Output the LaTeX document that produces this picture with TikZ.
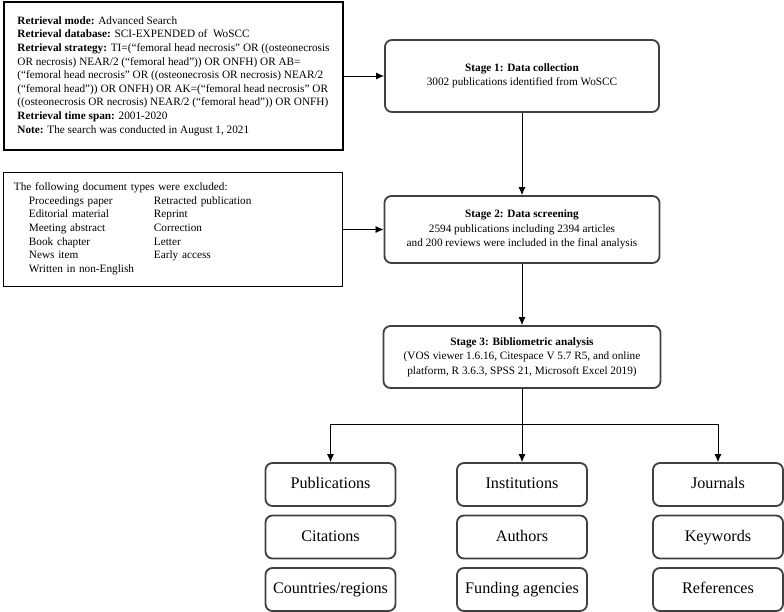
\documentclass[tikz,border=0pt]{standalone}
\usepackage{fontspec}
\setmainfont{Liberation Serif}
\usetikzlibrary{arrows.meta}

\begin{document}
\begin{tikzpicture}[x=0.025cm,y=-0.025cm]
\tikzstyle{query} = [rectangle, draw=black, line width=0.8pt, minimum width=8.475cm,
minimum height=3.7cm, align=left, font=\fontsize{8}{9.7}\selectfont]
\tikzstyle{stage} = [rectangle, draw=black!75, line width=1.3pt, rounded corners=5pt,
minimum width=6.85cm, align=center, font=\fontsize{8}{10.2}\selectfont]
\tikzstyle{item} = [rectangle, draw=black!75, line width=1.3pt, rounded corners=5pt,
minimum width=3.25cm, minimum height=1.075cm, text height=8.5pt, text depth=2.5pt,
font=\fontsize{11.5}{13}\selectfont]
\tikzstyle{line} = [draw, line width=0.6pt, -{Latex[length=5.7pt,width=5pt]}];

\useasboundingbox (0,0) rectangle (784,612);

% left column
\node [query] (query) at (173.5,76) {\textbf{Retrieval mode:} Advanced Search\\
\textbf{Retrieval database:} SCI-EXPENDED of~~WoSCC\\
\textbf{Retrieval strategy:} TI=(“femoral head necrosis” OR ((osteonecrosis\\
OR necrosis) NEAR/2 (“femoral head”)) OR ONFH) OR AB=\\
(“femoral head necrosis” OR ((osteonecrosis OR necrosis) NEAR/2\\
(“femoral head”)) OR ONFH) OR AK=(“femoral head necrosis” OR\\
((osteonecrosis OR necrosis) NEAR/2 (“femoral head”)) OR ONFH)\\
\textbf{Retrieval time span:} 2001-2020\\
\textbf{Note:} The search was conducted in August 1, 2021};
\node [query, minimum height=2.85cm, text width=7.95cm, inner xsep=0.26cm] (excl) at (173,229.5) {The following document types were excluded:\\
\begin{tabular}[t]{@{\hspace{0.375cm}}p{3.125cm}@{}l@{}}
Proceedings paper & Retracted publication\\
Editorial material & Reprint\\
Meeting abstract & Correction\\
Book chapter & Letter\\
News item & Early access\\
Written in non-English & \\
\end{tabular}\\[6pt]};

% stages
\node [stage, minimum height=1.8cm] (collect) at (522,76) {\textbf{Stage 1: Data collection}\\
3002 publications identified from WoSCC};
\node [stage, minimum height=1.675cm, minimum width=6.875cm] (screen) at (522,229.5) {\textbf{Stage 2: Data screening}\\
2594 publications including 2394 articles\\
and 200 reviews were included in the final analysis};
\node [stage, minimum height=1.55cm, minimum width=6.925cm] (analysis) at (522,357) {\textbf{Stage 3: Bibliometric analysis}\\
(VOS viewer 1.6.16, Citespace V 5.7 R5, and online\\
platform, R 3.6.3, SPSS 21, Microsoft Excel 2019)};

% analysis items
\node [item] (pub) at (330.5,484.5) {Publications};
\node [item] (cit) at (330.5,537) {Citations};
\node [item] (country) at (330.5,589.5) {Countries/regions};
\node [item] (inst) at (522,484.5) {Institutions};
\node [item] (author) at (522,537) {Authors};
\node [item] (fund) at (522,589.5) {Funding agencies};
\node [item] (jour) at (718,484.5) {Journals};
\node [item] (keyw) at (718,537) {Keywords};
\node [item] (ref) at (718,589.5) {References};
\coordinate (split) at (522,424);

\tikzstyle{every path}=[line]
\path (query) -- (collect);
\path (excl) -- (screen);
\path (collect) -- (screen);
\path (screen) -- (analysis);
\path [-] (analysis) -- (split);
\path (split) -| (pub);
\path (split) -- (inst);
\path (split) -| (jour);

\end{tikzpicture}
\end{document}
